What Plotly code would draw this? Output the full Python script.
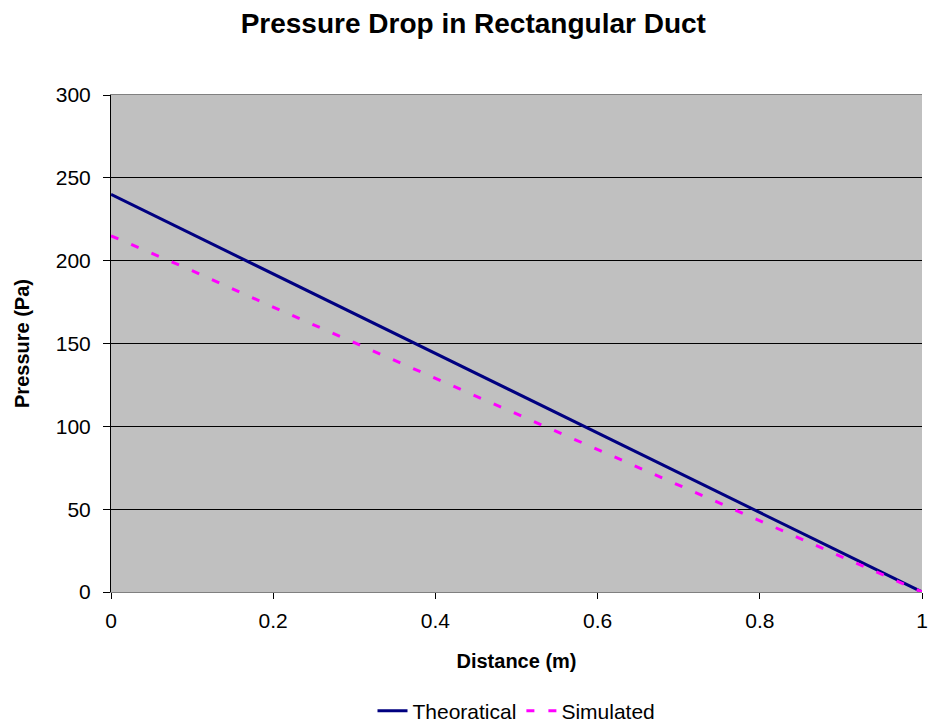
import plotly.graph_objects as go

distance = [0.0, 0.1, 0.2, 0.3, 0.4, 0.5, 0.6, 0.7, 0.8, 0.9, 1.0]
theoretical = [240, 216, 192, 168, 144, 120, 96, 72, 48, 24, 0]
simulated = [215, 194, 172, 150.5, 129, 107.5, 86, 64.5, 43, 21.5, 0]

y_ticks = [0, 50, 100, 150, 200, 250, 300]
x_ticks = [0, 0.2, 0.4, 0.6, 0.8, 1.0]
x_tick_text = ["0", "0.2", "0.4", "0.6", "0.8", "1"]

FONT = "Arial, Liberation Sans, sans-serif"

fig = go.Figure()
fig.add_trace(go.Scatter(x=distance, y=theoretical, mode="lines", name="Theoratical",
                         line=dict(color="#000080", width=3)))
fig.add_trace(go.Scatter(x=distance, y=simulated, mode="lines", name="Simulated",
                         line=dict(color="#FF00FF", width=3, dash="8px,14px")))

fig.update_layout(
    width=928, height=727,
    margin=dict(l=111, r=6, t=95, b=135, autoexpand=False),
    paper_bgcolor="white",
    plot_bgcolor="#C0C0C0",
    font=dict(family=FONT, size=20, color="black"),
    title=dict(text="<b>Pressure Drop in Rectangular Duct</b>", x=0.51, xref="container",
               xanchor="center", y=1 - 23 / 727, yref="container", yanchor="middle",
               font=dict(size=28, family=FONT, color="black")),
    showlegend=True,
    legend=dict(orientation="h", x=0.5, xanchor="center", y=-0.2394, yanchor="middle",
                font=dict(size=21), bgcolor="rgba(0,0,0,0)",
                tracegroupgap=0),
    xaxis=dict(range=[0, 1], tickvals=x_ticks, ticktext=x_tick_text,
               showgrid=False, zeroline=False, automargin=False,
               showline=True, linecolor="#808080", linewidth=1, mirror=True,
               ticks="outside", ticklen=6, tickcolor="black", tickwidth=1,
               tickfont=dict(size=21), ticklabelstandoff=4, ticklabeloverflow="allow",
               title=dict(text="<b>Distance (m)</b>", font=dict(size=20), standoff=22)),
    yaxis=dict(range=[0, 300], tickvals=y_ticks,
               showgrid=True, gridcolor="black", gridwidth=1, zeroline=False, automargin=False,
               showline=True, linecolor="black", linewidth=1, mirror=False,
               ticks="outside", ticklen=7, tickcolor="black", tickwidth=1,
               tickfont=dict(size=21), ticklabelstandoff=8,
               title=dict(text="<b>Pressure (Pa)</b>", font=dict(size=20), standoff=20)),
)

fig.write_html("out.html")
